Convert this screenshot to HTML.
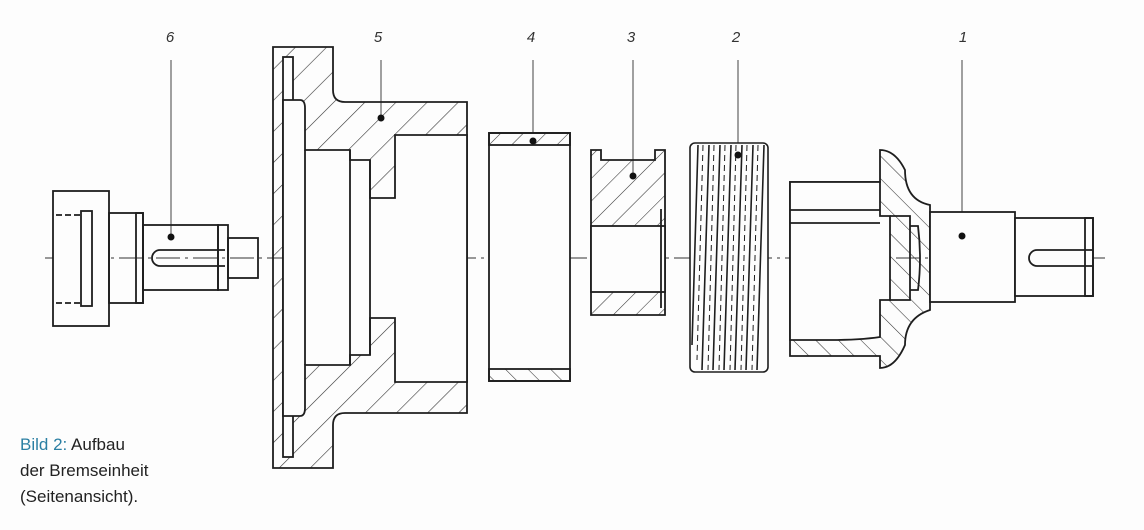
<!DOCTYPE html>
<html><head><meta charset="utf-8"><style>
html,body{margin:0;padding:0;background:#fdfdfd;}
.c{position:absolute;left:20px;font:17px "Liberation Sans",sans-serif;color:#222;line-height:26px}
</style></head><body>
<div style="position:relative;width:1144px;height:530px;overflow:hidden">
<svg width="1144" height="530" viewBox="0 0 1144 530" xmlns="http://www.w3.org/2000/svg" style="position:absolute;left:0;top:0">
<defs>
<pattern id="h" patternUnits="userSpaceOnUse" width="22" height="22" patternTransform="rotate(45)">
<line x1="0" y1="0" x2="0" y2="22" stroke="#333" stroke-width="1.2"/></pattern>
<pattern id="h2" patternUnits="userSpaceOnUse" width="16" height="16" patternTransform="rotate(45)">
<line x1="0" y1="0" x2="0" y2="16" stroke="#333" stroke-width="1.1"/></pattern>
<pattern id="h3" patternUnits="userSpaceOnUse" width="16" height="16" patternTransform="rotate(-45)">
<line x1="0" y1="0" x2="0" y2="16" stroke="#333" stroke-width="1.1"/></pattern>
</defs>
<g font-family="Liberation Sans" font-style="italic" font-size="15" fill="#333" text-anchor="middle">
<text x="170" y="42">6</text><text x="378" y="42">5</text><text x="531" y="42">4</text>
<text x="631" y="42">3</text><text x="736" y="42">2</text><text x="963" y="42">1</text>
</g>
<g stroke="#444" stroke-width="1">
<line x1="171" y1="60" x2="171" y2="237"/><line x1="381" y1="60" x2="381" y2="118"/>
<line x1="533" y1="60" x2="533" y2="141"/><line x1="633" y1="60" x2="633" y2="176"/>
<line x1="738" y1="60" x2="738" y2="155"/><line x1="962" y1="60" x2="962" y2="236"/>
</g>
<line x1="45" y1="258" x2="1105" y2="258" stroke="#333" stroke-width="1" stroke-dasharray="24,5,3,5"/>
<g fill="none" stroke="#1e1e1e" stroke-width="1.8">
<rect x="53" y="191" width="56" height="135" fill="#fdfdfd"/>
<rect x="81" y="211" width="11" height="95"/>
<line x1="56" y1="215" x2="81" y2="215" stroke-dasharray="6,3"/><line x1="56" y1="303" x2="81" y2="303" stroke-dasharray="6,3"/>
<rect x="109" y="213" width="34" height="90"/>
<rect x="136" y="213" width="7" height="90"/>
<rect x="143" y="225" width="75" height="65"/>
<rect x="218" y="225" width="10" height="65"/>
<rect x="228" y="238" width="30" height="40"/>
<path d="M225 250 H160 A8 8 0 0 0 160 266 H225"/>
<path d="M273 47 H333 V90 Q333 102 345 102 H467 V413 H345 Q333 413 333 425 V468 H273 Z" fill="url(#h)"/>
<rect x="283" y="57" width="10" height="400" fill="#fdfdfd"/>
<path d="M283 100 H300 Q305 100 305 108 V150 H350 V160 H370 V198 H395 V135 H467 V382 H395 V318 H370 V355 H350 V365 H305 V408 Q305 416 300 416 H283 Z" fill="#fdfdfd"/>
<line x1="305" y1="150" x2="305" y2="365"/><line x1="350" y1="150" x2="350" y2="365"/><line x1="370" y1="160" x2="370" y2="355"/>
<rect x="489" y="133" width="81" height="248" fill="#fdfdfd"/>
<rect x="489" y="133" width="81" height="12" fill="url(#h2)"/>
<rect x="489" y="369" width="81" height="12" fill="url(#h3)"/>
<path d="M591 150 H601 V160 H655 V150 H665 V315 H591 Z" fill="url(#h2)"/>
<rect x="591" y="226" width="74" height="66" fill="#fdfdfd"/>
<line x1="661" y1="209" x2="661" y2="308"/>
<path d="M790 182 H880 V150 Q895 150 905 170 Q905 200 930 205 V310 Q905 318 905 345 Q895 368 880 368 V356 H790 Z" fill="url(#h3)"/>
<path d="M790 182 H880 V216 H890 L890 300 H880 V337 Q860 340 830 340 H790 Z" fill="#fdfdfd"/>
<line x1="790" y1="210" x2="880" y2="210"/><line x1="790" y1="223" x2="880" y2="223"/>
<path d="M890 216 H910 V300 H890"/><path d="M910 226 H918 Q922 258 918 290 H910"/>
<rect x="930" y="212" width="85" height="90" fill="#fdfdfd"/>
<rect x="1015" y="218" width="78" height="78" fill="#fdfdfd"/>
<rect x="1085" y="218" width="8" height="78"/>
<path d="M1093 250 H1037 A8 8 0 0 0 1037 266 H1093"/>
</g>
<g fill="none" stroke="#1e1e1e" stroke-width="1.6">
<rect x="690" y="143" width="78" height="229" rx="5" fill="#fdfdfd"/>
<path d="M698 145 L692 345 M709 145 L702 370 M720 145 L713 370 M731 145 L724 370 M742 145 L735 370 M753 145 L746 370 M764 145 L757 370"/>
<path d="M703 145 L697 360 M714 145 L708 370 M725 145 L719 370 M736 145 L730 370 M747 145 L741 370 M758 145 L752 370" stroke-dasharray="6,4" stroke-width="1"/>
</g>
<g fill="#111">
<circle cx="171" cy="237" r="3.5"/><circle cx="381" cy="118" r="3.5"/><circle cx="533" cy="141" r="3.5"/>
<circle cx="633" cy="176" r="3.5"/><circle cx="738" cy="155" r="3.5"/><circle cx="962" cy="236" r="3.5"/>
</g>
</svg>
<div class="c" style="top:432px"><span style="color:#2b7fa3">Bild 2:</span> Aufbau<br>der Bremseinheit<br>(Seitenansicht).</div>
</div>
</body></html>
